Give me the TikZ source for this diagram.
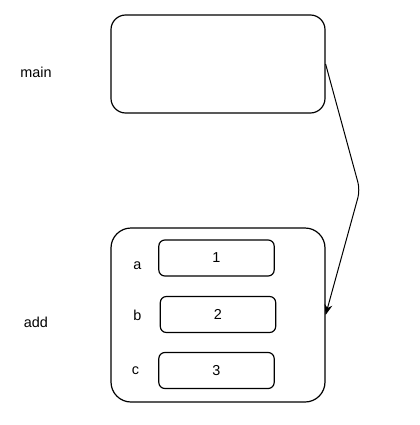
\documentclass[tikz,border=0pt]{standalone}
\usepackage{fontspec}
\setmainfont{Liberation Sans}
\usetikzlibrary{arrows.meta,positioning}
\definecolor{frameline}{HTML}{000000}
\tikzset{
  frameBox/.style={draw=frameline,line width=.9pt,rounded corners=11pt,minimum width=160.5pt,inner sep=0pt},
  cellBox/.style={draw=frameline,line width=.9pt,rounded corners=4.5pt,minimum width=86.5pt,minimum height=27pt,inner sep=0pt},
  tag/.style={inner sep=0pt}
}

\begin{document}
\begin{tikzpicture}[x=.75pt,y=-.75pt,>={Stealth[length=8pt,width=6pt]},font=\fontsize{10.8pt}{13pt}\selectfont]
\useasboundingbox (0,0) rectangle (420,425);
\node[frameBox,minimum height=73.5pt] (main) at (218,64) {};
\node[frameBox,minimum height=130.5pt,rounded corners=15pt] (add) at (218,315) {};
\node[tag] (mainLbl) at (36,72) {main};
\node[tag] (addLbl) at (36,322) {add};
\node[cellBox] (cellA) at (216.5,258) {1};
\node[cellBox] (cellB) at (218,314.5) {2};
\node[cellBox] (cellC) at (216.5,370.5) {3};
\node[tag] (varA) at (137.5,266) {a};
\node[tag] (varB) at (137.5,315) {b};
\node[tag] (varC) at (135.5,371) {c};
\coordinate (bend) at (360,190);
\draw[->,frameline,line width=.75pt,rounded corners=6pt] (main.east) -- (bend) -- (add.east);
\end{tikzpicture}
\end{document}
